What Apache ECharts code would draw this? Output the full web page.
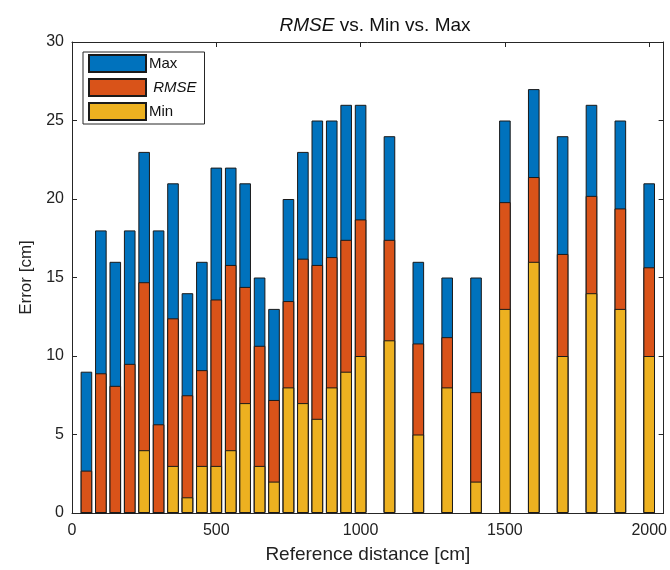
<!DOCTYPE html>
<html>
<head>
<meta charset="utf-8">
<script src="https://cdn.jsdelivr.net/npm/echarts@6/dist/echarts.min.js"></script>
<style>
  html, body { margin: 0; padding: 0; background: #fff; }
  #chart { width: 670px; height: 570px; }
</style>
</head>
<body>
<div id="chart"></div>
<script>
// reference distances [cm]
const distances = [50, 100, 150, 200, 250, 300, 350, 400, 450, 500, 550, 600, 650, 700, 750, 800, 850, 900, 950, 1000,
  1100, 1200, 1300, 1400, 1500, 1600, 1700, 1800, 1900, 2000];
const maxValues = [9, 18, 16, 18, 23, 18, 21, 14, 16, 22, 22, 21, 15, 13, 20, 23, 25, 25, 26, 26,
  24, 16, 15, 15, 25, 27, 24, 26, 25, 21];
const rmseValues = [2.7, 8.9, 8.1, 9.5, 14.7, 5.65, 12.4, 7.5, 9.1, 13.6, 15.8, 14.4, 10.65, 7.2, 13.5, 16.2, 15.8, 16.3, 17.4, 18.7,
  17.4, 10.8, 11.2, 7.7, 19.8, 21.4, 16.5, 20.2, 19.4, 15.65];
const minValues = [0, 0, 0, 0, 4, 0, 3, 1, 3, 3, 4, 7, 3, 2, 8, 7, 6, 8, 9, 10,
  11, 5, 8, 2, 13, 16, 10, 14, 13, 10];
const xTicks = [0, 500, 1000, 1500, 2000];
const yTicks = [0, 5, 10, 15, 20, 25, 30];

const FONT = '"Liberation Sans", Arial, sans-serif';
const AXIS_COLOR = '#262626';
const COLORS = { max: '#0072BD', rmse: '#D95319', min: '#EDB120' };

const chart = echarts.init(document.getElementById('chart'));

const pair = (vals) => distances.map((d, i) => [d, vals[i]]);

const barSeries = (name, vals, color) => ({
  type: 'bar',
  name: name,
  data: pair(vals),
  barWidth: 11.6,
  barGap: '-100%',
  itemStyle: { color: color, borderColor: '#1a1a1a', borderWidth: 1 },
  emphasis: { disabled: true },
});

const baseX = {
  type: 'value',
  min: 0,
  max: 2050,
  interval: 500,
  splitLine: { show: false },
  axisLine: { show: true, onZero: false, lineStyle: { color: AXIS_COLOR, width: 1 } },
  axisTick: { show: true, inside: true, length: 5, lineStyle: { color: AXIS_COLOR } },
};
const baseY = {
  type: 'value',
  min: 0,
  max: 30,
  interval: 5,
  splitLine: { show: false },
  axisLine: { show: true, onZero: false, lineStyle: { color: AXIS_COLOR, width: 1 } },
  axisTick: { show: true, inside: true, length: 5, lineStyle: { color: AXIS_COLOR } },
};

chart.setOption({
  animation: false,
  title: {
    text: '{i|RMSE}{n| vs. Min vs. Max}',
    left: 370,
    top: 11,
    textAlign: 'center',
    textStyle: {
      rich: {
        i: { fontFamily: FONT, fontSize: 19, fontStyle: 'italic', fontWeight: 'normal', color: '#111' },
        n: { fontFamily: FONT, fontSize: 19, fontWeight: 'normal', color: '#111' },
      },
    },
  },
  legend: {
    orient: 'vertical',
    left: 83,
    top: 52,
    padding: [2, 8, 3, 5],
    itemWidth: 57,
    itemHeight: 17,
    itemGap: 5,
    icon: 'rect',
    backgroundColor: '#fff',
    borderColor: AXIS_COLOR,
    borderWidth: 1,
    borderRadius: 0,
    selectedMode: false,
    data: ['Max', 'RMSE', 'Min'],
    formatter: (name) => (name === 'RMSE' ? '{i| RMSE}' : '{n|' + name + '}'),
    textStyle: {
      padding: [0, 0, 0, -2],
      rich: {
        i: { fontFamily: FONT, fontSize: 15, fontStyle: 'italic', color: '#111', lineHeight: 17 },
        n: { fontFamily: FONT, fontSize: 15, color: '#111', lineHeight: 17 },
      },
    },
  },
  grid: { left: 72, right: 3, top: 42, bottom: 57, containLabel: false },
  xAxis: [
    Object.assign({}, baseX, {
      position: 'bottom',
      name: 'Reference distance [cm]',
      nameLocation: 'middle',
      nameGap: 32,
      nameTextStyle: { fontFamily: FONT, fontSize: 19, color: '#222' },
      axisLabel: { fontFamily: FONT, fontSize: 16, color: '#222', margin: 10,
        formatter: (v) => (xTicks.includes(v) ? String(v) : '') },
    }),
    Object.assign({}, baseX, { position: 'top', axisLabel: { show: false } }),
  ],
  yAxis: [
    Object.assign({}, baseY, {
      position: 'left',
      name: 'Error [cm]',
      nameLocation: 'middle',
      nameGap: 37,
      nameTextStyle: { fontFamily: FONT, fontSize: 17, color: '#222' },
      axisLabel: { fontFamily: FONT, fontSize: 16, color: '#222', margin: 8,
        formatter: (v) => (yTicks.includes(v) ? String(v) : '') },
    }),
    Object.assign({}, baseY, { position: 'right', axisLabel: { show: false } }),
  ],
  series: [
    barSeries('Max', maxValues, COLORS.max),
    barSeries('RMSE', rmseValues, COLORS.rmse),
    barSeries('Min', minValues, COLORS.min),
  ],
});
</script>
</body>
</html>
